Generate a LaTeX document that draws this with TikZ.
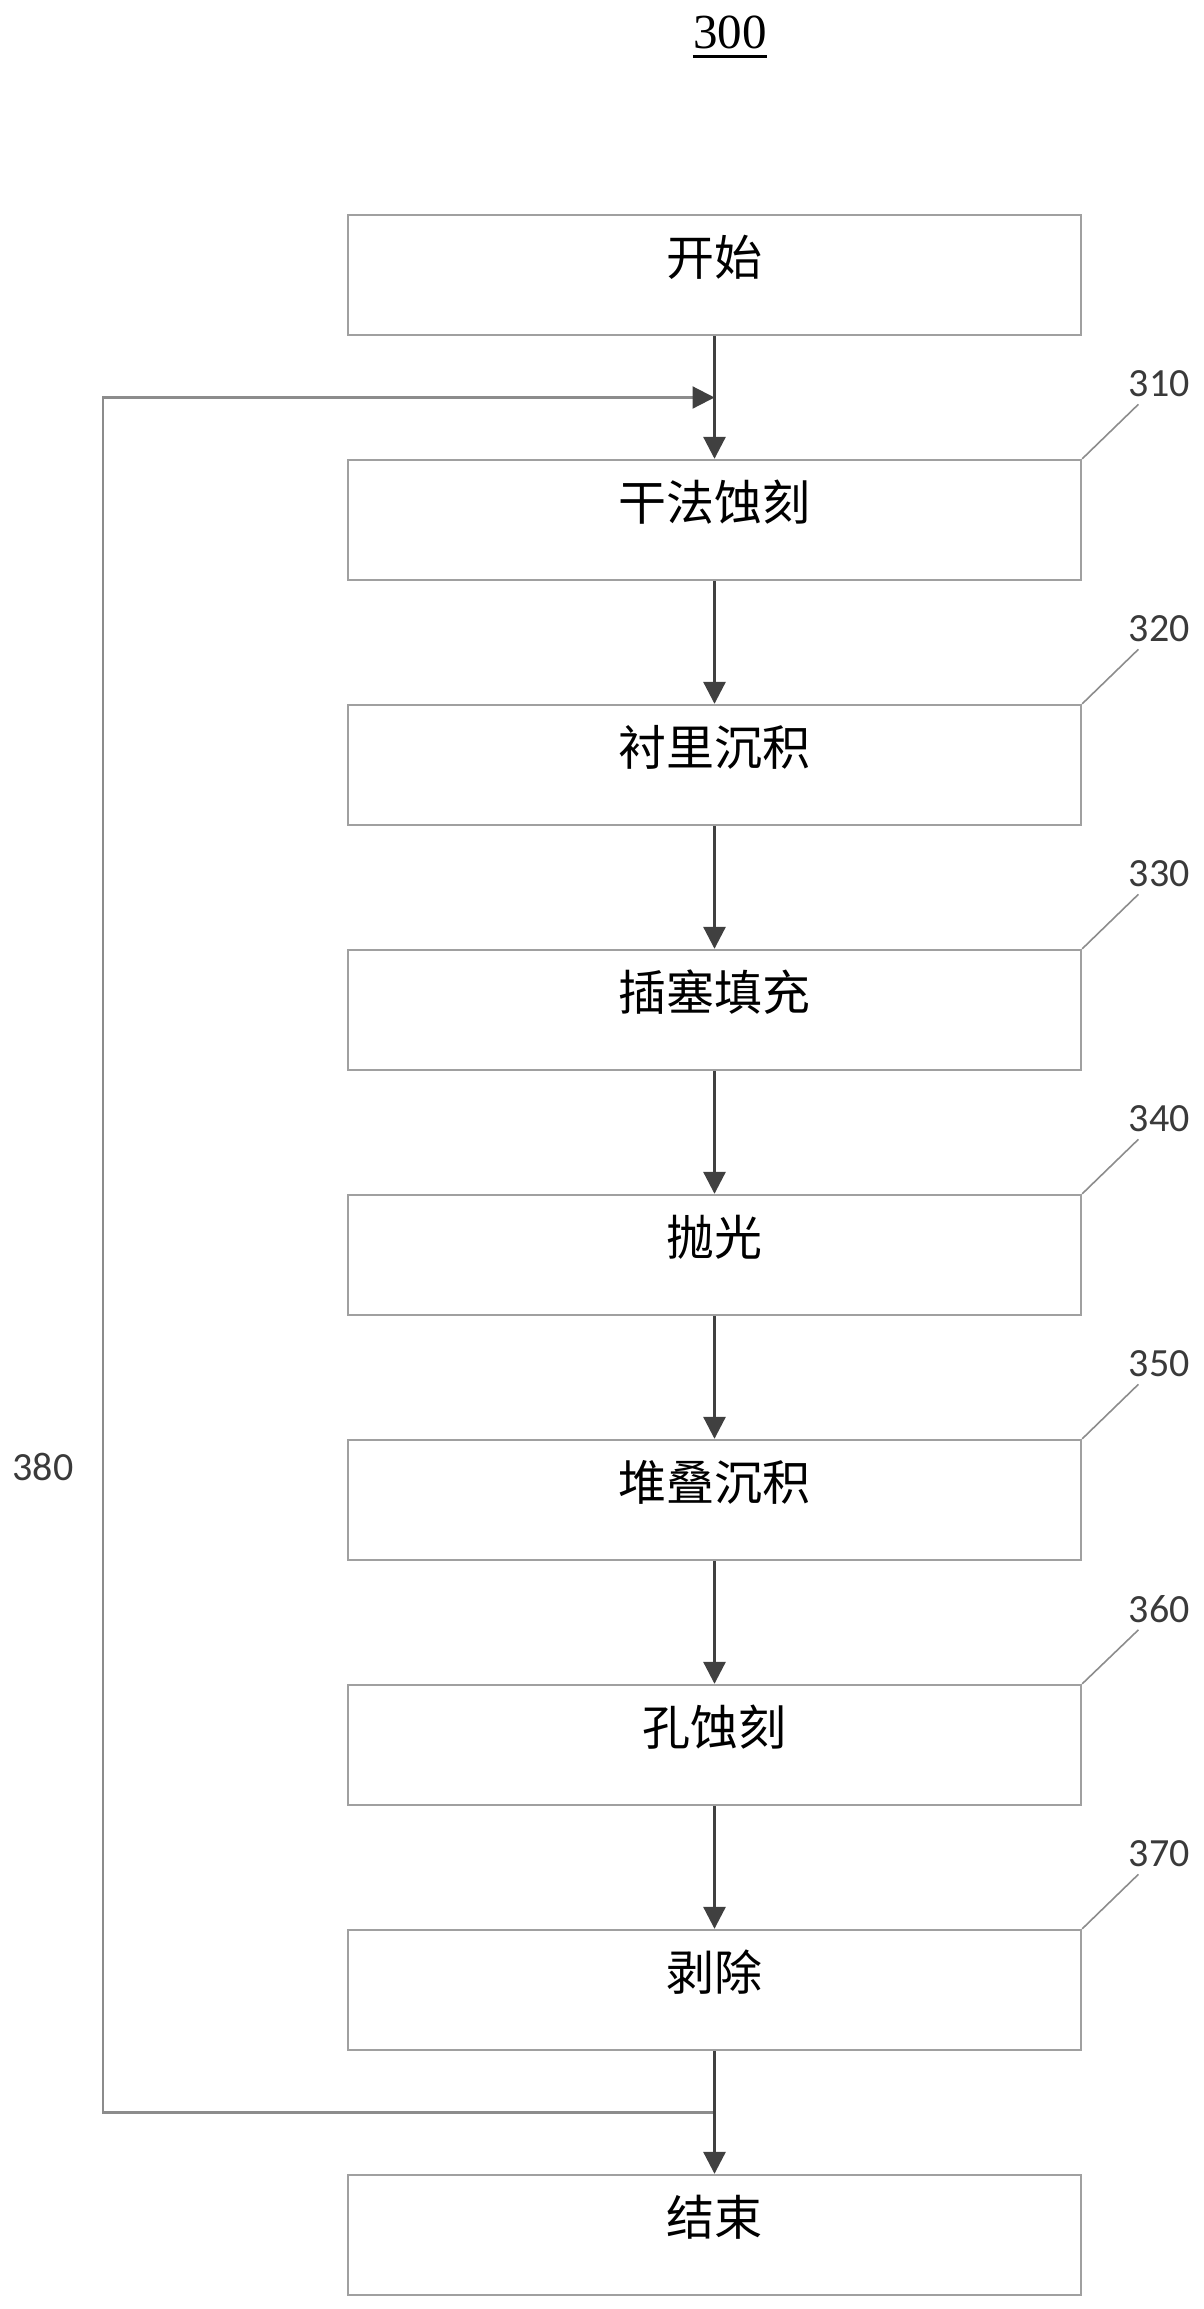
\documentclass[tikz,border=0pt]{standalone}
\usepackage{fontspec}
\setmainfont{Liberation Serif}
\newfontfamily\cjk{Noto Sans CJK SC}
\newfontfamily\reffont{Carlito}
\usetikzlibrary{arrows.meta}
\definecolor{boxgray}{HTML}{A0A0A0}
\definecolor{arrowgray}{HTML}{404040}
\definecolor{loopgray}{HTML}{8C8C8C}
\definecolor{refgray}{HTML}{3A3A3A}
\tikzset{
  stepbox/.style={draw=boxgray, line width=1.2pt, minimum width=366.5pt,
    minimum height=60pt, inner sep=0pt, text height=12pt, text depth=12pt,
    font=\cjk\fontsize{24}{28}\selectfont},
  flow/.style={draw=arrowgray, line width=1.5pt,
    -{Triangle[length=11pt,width=11pt]}},
  loopline/.style={draw=loopgray, line width=1.1pt,
    -{Triangle[length=11pt,width=11pt,color=arrowgray]}},
  leader/.style={draw=loopgray, line width=0.8pt},
  reflabel/.style={inner sep=0pt, text=refgray,
    font=\reffont\fontsize{20}{24}\selectfont}
}
\begin{document}
\begin{tikzpicture}[x=0.5pt,y=-0.5pt]
  \useasboundingbox (0,0) rectangle (1204,2309);
  % title
  \node[anchor=base, inner sep=0pt, font=\fontsize{24.5}{28}\selectfont]
    (title) at (730,48) {300};
  \draw[line width=1.5pt] ([yshift=-4pt]title.base west)
    -- ([yshift=-4pt]title.base east);
  % steps
  \node[stepbox] (start) at (714.5,275) {开始};
  \node[stepbox] (s310) at (714.5,520) {干法蚀刻};
  \node[stepbox] (s320) at (714.5,765) {衬里沉积};
  \node[stepbox] (s330) at (714.5,1010) {插塞填充};
  \node[stepbox] (s340) at (714.5,1255) {抛光};
  \node[stepbox] (s350) at (714.5,1500) {堆叠沉积};
  \node[stepbox] (s360) at (714.5,1745) {孔蚀刻};
  \node[stepbox] (s370) at (714.5,1990) {剥除};
  \node[stepbox] (stop) at (714.5,2235) {结束};
  % reference numbers
  \foreach \n in {310,320,...,370} {
    \node[reflabel] (l\n) at ([shift={(77,-75)}]s\n.north east) {\n};
    \draw[leader] (s\n.north east) -- ([shift={(10,7)}]l\n.south west);
  }
  % loop 380
  \path (start) -- coordinate[midway] (join) (s310);
  \path (s370) -- coordinate[midway] (back) (stop);
  \coordinate (left) at (103,0);
  \draw[loopline] (back) -- (back -| left) -- (join -| left) -- (join);
  \node[reflabel] (l380) at (43,1467) {380};
  % arrows
  \foreach \a/\b in {start/s310,s310/s320,s320/s330,s330/s340,s340/s350,
    s350/s360,s360/s370,s370/stop}
    \draw[flow] (\a) -- (\b);
\end{tikzpicture}
\end{document}
